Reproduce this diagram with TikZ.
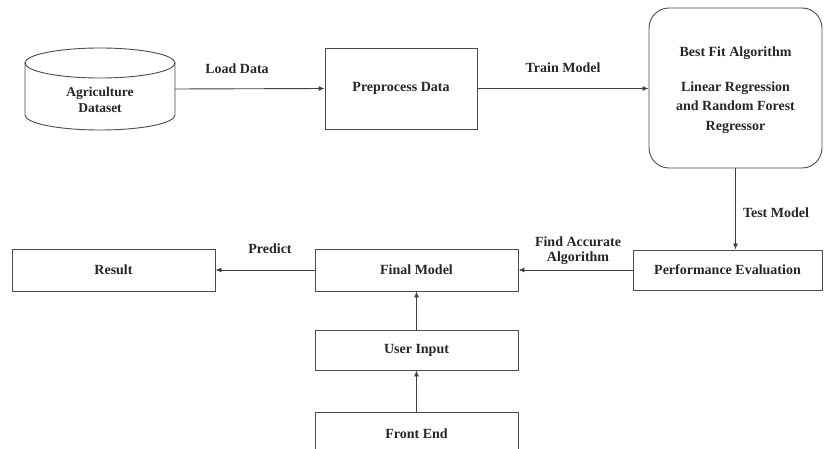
\documentclass[tikz,border=0pt]{standalone}
\usepackage{fontspec}
\setmainfont{Liberation Serif}
\usetikzlibrary{arrows.meta}
\begin{document}
\begin{tikzpicture}[x=1pt,y=-1pt,
  font=\bfseries\fontsize{14}{16}\selectfont,
  box/.style={draw=black!70, line width=0.9pt, rectangle, inner sep=0pt, text=black!85, align=center},
  conn/.style={draw=black!75, line width=0.9pt, -{Latex[length=6pt,width=5pt]}},
  lbl/.style={text=black!85, align=center, inner sep=0pt}
]
\useasboundingbox (0,0) rectangle (825,449);
% database cylinder
\draw[draw=black!70, line width=0.9pt, fill=white] (25,63) -- (25,115) arc[start angle=180, end angle=0, x radius=75, y radius=15] -- (175,63);
\draw[draw=black!70, line width=0.9pt] (100,63) ellipse[x radius=75, y radius=15];
\node[minimum width=150pt, minimum height=82pt, inner sep=0pt] (db) at (100,89) {};
\node[lbl, font=\bfseries\fontsize{13.5}{16}\selectfont] (dbt) at (100,100) {Agriculture\\Dataset};

\node[box, minimum width=152pt, minimum height=81pt] (pre) at (401,88.5) {Preprocess Data};
\node[box, rounded corners=20pt, minimum width=173pt, minimum height=160pt, font=\bfseries\fontsize{14}{19.5}\selectfont] (best) at (735.5,88) {};
\node[lbl, font=\bfseries\fontsize{14}{19.5}\selectfont] (bestt) at (735.5,90) {Best Fit Algorithm\\[15pt]Linear Regression\\and Random Forest\\Regressor};
\node[box, minimum width=189pt, minimum height=40pt] (perf) at (727.5,270) {Performance Evaluation};
\node[box, minimum width=203pt, minimum height=42pt] (final) at (416.5,270) {Final Model};
\node[box, minimum width=203pt, minimum height=42pt] (result) at (113.5,270) {Result};
\node[box, minimum width=203pt, minimum height=40pt] (user) at (416.5,350) {User Input};
\node[box, minimum width=203pt, minimum height=44pt] (front) at (416.5,434) {Front End};

\draw[conn] (db.east) -- (pre.west);
\draw[conn] (pre.east) -- (pre.east -| best.west);
\draw[conn] (best.south) -- (best.south |- perf.north);
\draw[conn] (perf.west) -- (final.east);
\draw[conn] (final.west) -- (result.east);
\draw[conn] (user.north) -- (final.south);
\draw[conn] (front.north) -- (user.south);

\node[lbl] (l1) at (237,69) {Load Data};
\node[lbl] (l2) at (563,68) {Train Model};
\node[lbl] (l3) at (776,213) {Test Model};
\node[lbl, font=\bfseries\fontsize{14}{15.5}\selectfont] (l4) at (578,250.5) {Find Accurate\\Algorithm};
\node[lbl] (l5) at (270,249) {Predict};
\end{tikzpicture}
\end{document}
